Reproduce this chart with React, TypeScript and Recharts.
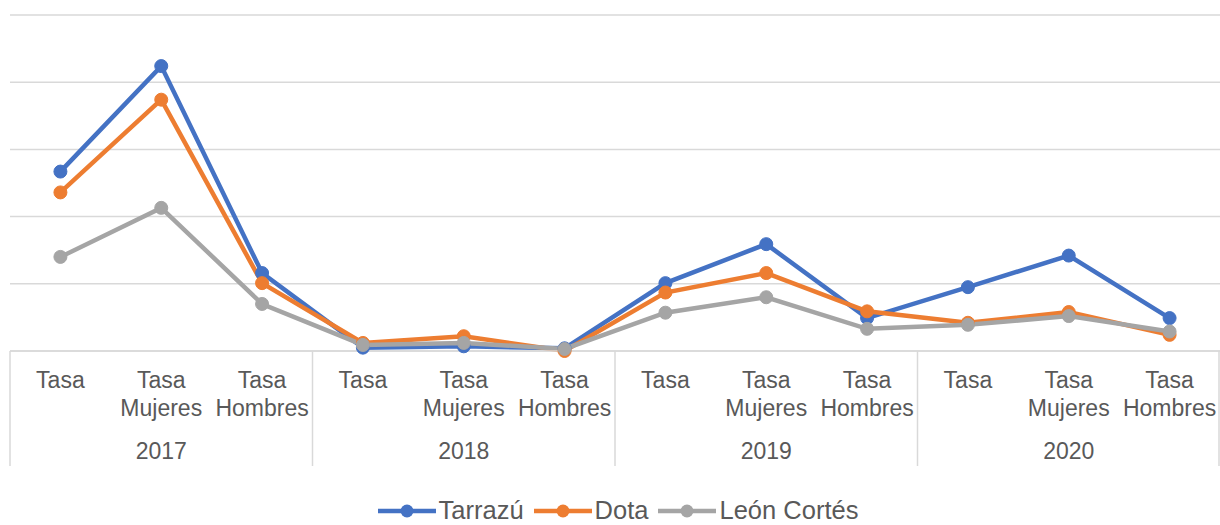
import { LineChart, Line, XAxis, YAxis, CartesianGrid, Legend } from 'recharts';

const years = ['2017', '2018', '2019', '2020'];
const categories = ['Tasa', 'Tasa Mujeres', 'Tasa Hombres'];
const tarrazu = [2.67, 4.24, 1.16, 0.05, 0.07, 0.04, 1.01, 1.59, 0.49, 0.95, 1.42, 0.49];
const dota = [2.36, 3.74, 1.01, 0.12, 0.22, 0.0, 0.87, 1.16, 0.59, 0.42, 0.58, 0.24];
const leonCortes = [1.4, 2.13, 0.7, 0.09, 0.12, 0.03, 0.57, 0.8, 0.33, 0.39, 0.52, 0.29];
const yTicks = [0, 1, 2, 3, 4, 5];

const data = tarrazu.map((v, i) => ({
  idx: i,
  label: categories[i % 3],
  year: years[Math.floor(i / 3)],
  tarrazu: v,
  dota: dota[i],
  leon: leonCortes[i],
}));

const series = [
  { key: 'tarrazu', name: 'Tarrazú', color: '#4472C4' },
  { key: 'dota', name: 'Dota', color: '#ED7D31' },
  { key: 'leon', name: 'León Cortés', color: '#A5A5A5' },
];

const WIDTH = 1220;
const LEFT = 10;
const RIGHT = 0;
const HALF_BAND = (WIDTH - LEFT - RIGHT) / data.length / 2;
const TEXT = '#595959';
const FONT = '"Liberation Sans", Arial, sans-serif';

function CategoryTick(props: any) {
  const { x, y, payload } = props;
  const index = payload.value as number;
  const d = data[index];
  if (!d) return null;
  const words = d.label.split(' ');
  const pos = index % 3;
  return (
    <g>
      {words.map((w: string, i: number) => (
        <text
          key={i}
          x={x}
          y={y + 37 + i * 28}
          textAnchor="middle"
          fill={TEXT}
          fontSize={23}
          fontFamily={FONT}
        >
          {w}
        </text>
      ))}
      {pos === 1 && (
        <text x={x} y={y + 108} textAnchor="middle" fill={TEXT} fontSize={23} fontFamily={FONT}>
          {d.year}
        </text>
      )}
      {pos === 0 && (
        <line x1={x - HALF_BAND} x2={x - HALF_BAND} y1={y} y2={y + 115} stroke="#d9d9d9" strokeWidth={1.5} />
      )}
      {index === data.length - 1 && (
        <line x1={x + HALF_BAND - 1} x2={x + HALF_BAND - 1} y1={y} y2={y + 115} stroke="#d9d9d9" strokeWidth={1.5} />
      )}
    </g>
  );
}

function LegendContent() {
  return (
    <div
      style={{
        display: 'flex',
        justifyContent: 'center',
        alignItems: 'center',
        fontFamily: FONT,
        paddingLeft: 26,
        height: 29,
      }}
    >
      {series.map((s) => (
        <div key={s.key} style={{ display: 'flex', alignItems: 'center', marginRight: 10 }}>
          <svg width={58} height={16}>
            <line x1={0} x2={58} y1={8} y2={8} stroke={s.color} strokeWidth={4.5} />
            <circle cx={29} cy={8} r={6.5} fill={s.color} />
          </svg>
          <span style={{ fontSize: 25.5, color: TEXT, marginLeft: 3 }}>{s.name}</span>
        </div>
      ))}
    </div>
  );
}

export default function App() {
  return (
    <div style={{ position: 'absolute', left: 0, top: 0, background: '#fff' }}>
      <LineChart
        width={WIDTH}
        height={525}
        data={data}
        margin={{ top: 15, right: RIGHT, left: LEFT, bottom: 58 }}
      >
        <CartesianGrid vertical={false} stroke="#d9d9d9" strokeWidth={1.5} />
        <XAxis
          dataKey="idx"
          type="category"
          padding={{ left: HALF_BAND, right: HALF_BAND }}
          interval={0}
          height={116}
          tickLine={false}
          tickSize={0}
          tickMargin={0}
          axisLine={{ stroke: '#d9d9d9', strokeWidth: 1.5 }}
          tick={<CategoryTick />}
        />
        <YAxis hide domain={[0, 5]} ticks={yTicks} />
        <Legend
          verticalAlign="middle"
          align="center"
          wrapperStyle={{ top: 496, left: 0, width: WIDTH, height: 29 }}
          content={<LegendContent />}
        />
        {series.map((s) => (
          <Line
            key={s.key}
            type="linear"
            dataKey={s.key}
            name={s.name}
            stroke={s.color}
            strokeWidth={4.5}
            dot={{ r: 6.5, fill: s.color, stroke: s.color, strokeWidth: 1 }}
            activeDot={false}
            isAnimationActive={false}
          />
        ))}
      </LineChart>
    </div>
  );
}
